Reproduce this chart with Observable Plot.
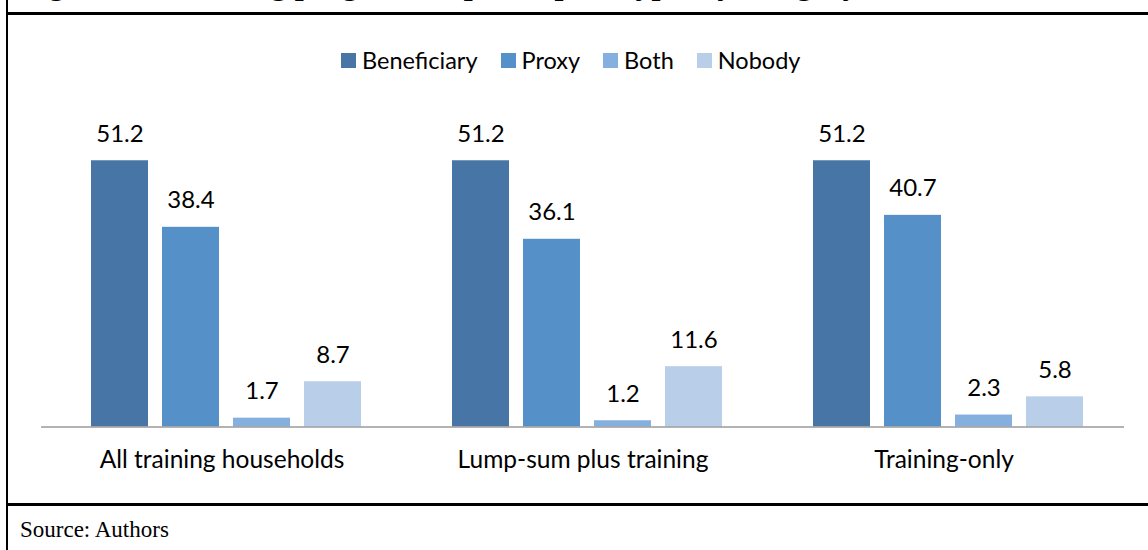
<!DOCTYPE html>
<html>
<head>
<meta charset="utf-8">
<script src="https://cdn.jsdelivr.net/npm/d3@7"></script>
<script src="https://cdn.jsdelivr.net/npm/@observablehq/plot@0.6"></script>
<style>
  html, body { margin: 0; padding: 0; background: #fff; }
  #page { position: relative; width: 1148px; height: 550px; overflow: hidden; background: #fff; }
  .vline { position: absolute; left: 6px; top: 0; width: 2px; height: 550px; background: #000; }
  .hline { position: absolute; left: 6px; right: 0; height: 2.5px; background: #000; }
  #title { position: absolute; left: 20px; top: -33.5px; font: bold 32px/32px "Liberation Serif", "Times New Roman", serif; white-space: nowrap; color: #000; }
  #legend { position: absolute; left: 341px; top: 45px; height: 30px; display: flex; align-items: center; font: 23.5px "Lato", sans-serif; color: #000; }
  #legend .item { display: flex; align-items: center; margin-right: 23px; }
  #legend .sw { width: 15px; height: 15px; margin-right: 6px; }
  #chart { position: absolute; left: 0; top: 80px; }
  #source { position: absolute; left: 20px; top: 516px; font: 23px/28px "Liberation Serif", "Times New Roman", serif; color: #000; }
</style>
</head>
<body>
<div id="page">
  <div id="title">Figure 10: Training programme participant type, by category</div>
  <div class="hline" style="top:12px"></div>
  <div class="vline"></div>
  <div id="legend"></div>
  <div id="chart"></div>
  <div class="hline" style="top:503px"></div>
  <div id="source">Source: Authors</div>
</div>
<script>
const categories = ["All training households", "Lump-sum plus training", "Training-only"];
const series = ["Beneficiary", "Proxy", "Both", "Nobody"];
const beneficiary = [51.2, 51.2, 51.2];
const proxy = [38.4, 36.1, 40.7];
const both = [1.7, 1.2, 2.3];
const nobody = [8.7, 11.6, 5.8];
const colors = ["#4675a6", "#5590c9", "#84afdf", "#b9cfe9"];

const seriesValues = [beneficiary, proxy, both, nobody];
const data = [];
categories.forEach((c, i) => {
  series.forEach((s, j) => {
    data.push({category: c, series: s, value: seriesValues[j][i]});
  });
});

// legend
const legend = document.getElementById("legend");
series.forEach((s, j) => {
  const item = document.createElement("div");
  item.className = "item";
  const sw = document.createElement("span");
  sw.className = "sw";
  sw.style.background = colors[j];
  const t = document.createElement("span");
  t.textContent = s;
  item.appendChild(sw);
  item.appendChild(t);
  legend.appendChild(item);
});

const chart = Plot.plot({
  width: 1148,
  height: 400,
  marginLeft: 40,
  marginRight: 24,
  marginTop: 34.5,
  marginBottom: 53.5,
  style: {fontFamily: "Lato, sans-serif", fontSize: "21px", color: "#000", background: "transparent"},
  fx: {domain: categories, padding: 0, label: null},
  x: {domain: series, paddingInner: 0.2, paddingOuter: 0.61, align: 0.547, axis: null},
  y: {domain: [0, 60], axis: null},
  color: {domain: series, range: colors},
  marks: [
    Plot.barY(data, {fx: "category", x: "series", y: "value", fill: "series"}),
    Plot.text(data, {fx: "category", x: "series", y: "value", text: d => d.value.toFixed(1), lineAnchor: "bottom", dy: -19, fontSize: 24, fill: "#000"}),
    Plot.ruleY([0], {stroke: "#9a9a9a", strokeWidth: 1.5}),
    Plot.axisFx({anchor: "bottom", tickSize: 0, tickPadding: 24, fontSize: 24.5, label: null})
  ]
});
document.getElementById("chart").appendChild(chart);
</script>
</body>
</html>
